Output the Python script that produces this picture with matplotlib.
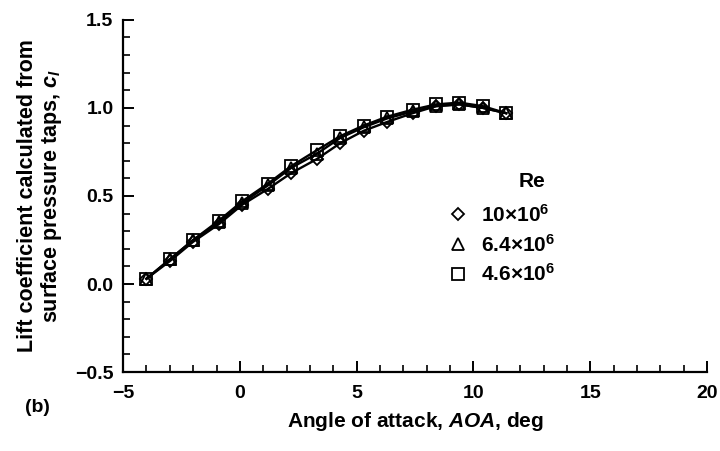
import numpy as np
import matplotlib
matplotlib.use("Agg")
import matplotlib.pyplot as plt
from matplotlib.lines import Line2D
from matplotlib.ticker import MultipleLocator

plt.rcParams['font.family'] = ['Liberation Sans', 'DejaVu Sans']
plt.rcParams['font.weight'] = 'bold'
plt.rcParams['axes.labelweight'] = 'bold'
plt.rcParams['mathtext.fontset'] = 'custom'
plt.rcParams['mathtext.rm'] = 'Liberation Sans:bold'
plt.rcParams['mathtext.it'] = 'Liberation Sans:italic:bold'

# angle of attack, deg
aoa = [-4.0, -3.0, -2.0, -0.9, 0.1, 1.2, 2.2, 3.3, 4.3, 5.3, 6.3, 7.4, 8.4, 9.4, 10.4, 11.4]

# lift coefficient for each Reynolds number
cl_10 = [0.03, 0.13, 0.24, 0.34, 0.45, 0.54, 0.63, 0.71, 0.80, 0.87, 0.92, 0.97, 1.01, 1.02, 1.00, 0.97]
cl_64 = [0.03, 0.14, 0.25, 0.35, 0.46, 0.56, 0.66, 0.74, 0.83, 0.89, 0.94, 0.98, 1.01, 1.02, 1.00, 0.97]
cl_46 = [0.03, 0.14, 0.25, 0.36, 0.47, 0.57, 0.67, 0.76, 0.84, 0.90, 0.95, 0.99, 1.02, 1.03, 1.01, 0.97]

series = [
    (cl_10, "D", "10\u00d710$^6$", 6.5),
    (cl_64, "^", "6.4\u00d710$^6$", 8.5),
    (cl_46, "s", "4.6\u00d710$^6$", 8),
]

fig = plt.figure(figsize=(7.2, 4.51), dpi=100)
ax = fig.add_axes([0.171, 0.175, 0.811, 0.781])

for vals, mk, lab, ms in series:
    ax.plot(aoa, vals, color="black", lw=1.7, marker=mk, ms=ms,
            mfc="none", mec="black", mew=1.3)

ax.set_xlim(-5, 20)
ax.set_ylim(-0.5, 1.5)
ax.xaxis.set_minor_locator(MultipleLocator(1))
ax.yaxis.set_minor_locator(MultipleLocator(0.1))
ax.set_yticks([-0.5, 0.0, 0.5, 1.0, 1.5])
ax.set_yticklabels(["\u22120.5", "0.0", "0.5", "1.0", "1.5"])
ax.set_xticks([-5, 0, 5, 10, 15, 20])
ax.set_xticklabels(["\u22125", "0", "5", "10", "15", "20"])

for s in ["top", "right"]:
    ax.spines[s].set_visible(False)
for s in ["left", "bottom"]:
    ax.spines[s].set_linewidth(1.6)

ax.tick_params(which="major", direction="in", length=8, width=1.4, labelsize=14)
ax.tick_params(axis="x", which="major", pad=9)
ax.tick_params(axis="y", which="major", pad=7)
ax.tick_params(which="minor", direction="in", length=5, width=1.2)

ax.set_xlabel("Angle of attack, $\\mathit{AOA}$, deg", fontsize=15, labelpad=6)
ax.set_ylabel("Lift coefficient calculated from\nsurface pressure taps, $c_l$",
              fontsize=15.5, labelpad=8, linespacing=1.05)

handles = [Line2D([], [], ls="none", marker=mk, ms=ms, mfc="none", mec="black",
                  mew=1.3, label=lab) for vals, mk, lab, ms in series]
leg = ax.legend(handles=handles, frameon=False, fontsize=15,
                loc="upper left", bbox_to_anchor=(0.555, 0.478),
                handletextpad=0.6, labelspacing=0.38, handlelength=1.0,
                borderaxespad=0, borderpad=0)
fig.text(0.739, 0.598, "Re", fontsize=15, ha="center", va="center")

fig.text(0.035, 0.087, "(b)", fontsize=14)

fig.savefig("out.png", dpi=100)
